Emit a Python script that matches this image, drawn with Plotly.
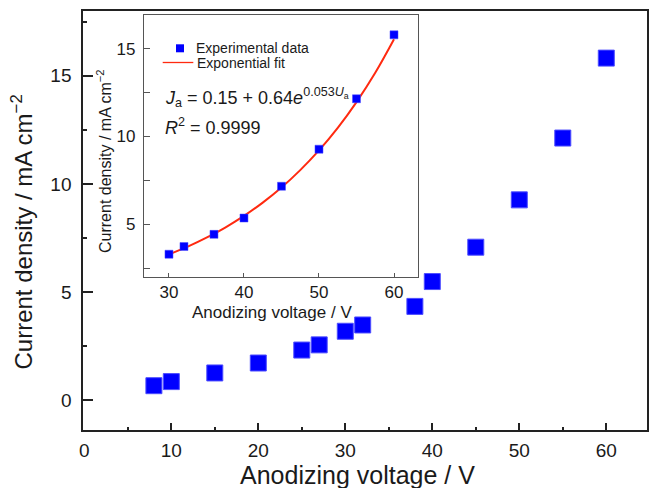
import plotly.graph_objects as go

W, H = 649, 488

# ---- data ----
main_voltage = [8, 10, 15, 20, 25, 27, 30, 32, 38, 40, 45, 50, 55, 60]
main_current = [0.66, 0.85, 1.25, 1.71, 2.31, 2.55, 3.18, 3.47, 4.33, 5.48, 7.07, 9.26, 12.12, 15.82]

inset_voltage = [30, 32, 36, 40, 45, 50, 55, 60]
inset_current = [3.30, 3.74, 4.43, 5.36, 7.17, 9.28, 12.15, 15.79]

fit_voltage = [30, 32.5, 35, 37.5, 40, 42.5, 45, 47.5, 50, 52.5, 55, 57.5, 60]
fit_current = [3.29, 3.73, 4.24, 4.82, 5.48, 6.24, 7.10, 8.09, 9.21, 10.49, 11.96, 13.63, 15.54]

main_xticks = [0, 10, 20, 30, 40, 50, 60]
main_yticks = [0, 5, 10, 15]
inset_xticks = [30, 40, 50, 60]
inset_yticks = [5, 10, 15]
inset_yminor = [2.5, 7.5, 12.5]

FONT = "Arial, Liberation Sans, sans-serif"
TXT = "#1a1a1a"
BLUE = "#0000ff"
RED = "#ff2a10"


def px(x):
    return x / W


def py(y):
    return 1 - y / H


fig = go.Figure()

fig.add_trace(go.Scatter(
    x=main_voltage, y=main_current, mode="markers",
    marker=dict(symbol="square", size=16, color=BLUE, line=dict(width=1, color="#4d4dff")),
    xaxis="x", yaxis="y", showlegend=False))

fig.add_trace(go.Scatter(
    x=fit_voltage, y=fit_current, mode="lines", line=dict(color=RED, width=2, shape="spline"),
    xaxis="x2", yaxis="y2", showlegend=False))

fig.add_trace(go.Scatter(
    x=inset_voltage, y=inset_current, mode="markers",
    marker=dict(symbol="square", size=8, color=BLUE, line=dict(width=0.5, color="#4d4dff")),
    xaxis="x2", yaxis="y2", showlegend=False))

fig.update_layout(
    width=W, height=H,
    margin=dict(l=0, r=0, t=0, b=0, autoexpand=False),
    paper_bgcolor="white", plot_bgcolor="white",
    font=dict(family=FONT, color=TXT),
    xaxis=dict(
        domain=[px(83.3), px(647)], range=[-0.115, 64.68], automargin=False,
        tickvals=main_xticks, ticks="inside", ticklen=7, tickwidth=1.5, tickcolor="#222",
        minor=dict(dtick=5, tick0=0, ticks="inside", ticklen=3, tickwidth=1.5, tickcolor="#222"),
        showline=True, linecolor="#222", linewidth=2, mirror=True,
        showgrid=False, zeroline=False, tickfont=dict(size=19, color=TXT),
        anchor="y", ticklabelstandoff=2),
    yaxis=dict(
        domain=[py(430), py(11)], range=[-1.39, 18.0], automargin=False,
        tickvals=main_yticks, ticks="inside", ticklen=10, tickwidth=1.5, tickcolor="#222",
        minor=dict(dtick=2.5, tick0=0, ticks="inside", ticklen=4, tickwidth=1.5, tickcolor="#222"),
        showline=True, linecolor="#222", linewidth=2, mirror=True,
        showgrid=False, zeroline=False, tickfont=dict(size=19, color=TXT),
        anchor="x", ticklabelstandoff=6),
    xaxis2=dict(
        domain=[px(144), px(417.7)], range=[26.67, 63.16], automargin=False,
        tickvals=inset_xticks, ticks="inside", ticklen=4, tickwidth=1, tickcolor="#555",
        showline=True, linecolor="#555", linewidth=1.3, mirror=True,
        showgrid=False, zeroline=False, tickfont=dict(size=17, color=TXT),
        anchor="y2", ticklabelstandoff=0),
    yaxis2=dict(
        domain=[py(276.7), py(15)], range=[2.02, 16.92], automargin=False,
        tickvals=inset_yticks,
        ticks="inside", ticklen=6, tickwidth=1, tickcolor="#555",
        minor=dict(tickvals=inset_yminor, ticks="inside", ticklen=6, tickwidth=1, tickcolor="#555"),
        showline=True, linecolor="#555", linewidth=1.3, mirror=True,
        showgrid=False, zeroline=False, tickfont=dict(size=17, color=TXT),
        anchor="x2", ticklabelstandoff=4),
    showlegend=False,
)

annotations = [
    dict(text="Anodizing voltage / V", x=px(357.7), y=py(475), xanchor="center", yanchor="middle",
         font=dict(size=25, color=TXT)),
    dict(text="Current density / mA cm<sup>−2</sup>", x=px(22), y=py(232.5), textangle=-90,
         xanchor="center", yanchor="middle", font=dict(size=24, color=TXT)),
    dict(text="Anodizing voltage / V", x=px(271.5), y=py(312.5), xanchor="center", yanchor="middle",
         font=dict(size=17, color=TXT)),
    dict(text="Current density / mA cm<sup>−2</sup>", x=px(104), y=py(162), textangle=-90,
         xanchor="center", yanchor="middle", font=dict(size=16, color=TXT)),
    dict(text="Experimental data", x=px(194), y=py(48.3), xanchor="left", yanchor="middle",
         font=dict(size=14, color=TXT)),
    dict(text="Exponential fit", x=px(195), y=py(63.3), xanchor="left", yanchor="middle",
         font=dict(size=14, color=TXT)),
    dict(text="<i>J</i><sub>a</sub> = 0.15 + 0.64<i>e</i><sup>0.053<i>U</i><sub>a</sub></sup>",
         x=px(163), y=py(98), xanchor="left", yanchor="middle", font=dict(size=18, color=TXT)),
    dict(text="<i>R</i><sup>2</sup> = 0.9999", x=px(163), y=py(127), xanchor="left", yanchor="middle",
         font=dict(size=18, color=TXT)),
]
for a in annotations:
    a.update(xref="paper", yref="paper", showarrow=False)
fig.update_layout(annotations=annotations)

# legend keys
fig.add_shape(type="rect", xref="paper", yref="paper",
              x0=px(176), x1=px(184), y0=py(52.3), y1=py(44.3),
              fillcolor=BLUE, line=dict(width=0))
fig.add_shape(type="line", xref="paper", yref="paper",
              x0=px(162.7), x1=px(193.3), y0=py(62.5), y1=py(62.5),
              line=dict(color=RED, width=1.3))

fig.write_html(
    "out.html",
    config={"displayModeBar": False},
    post_script="document.body.style.margin='0';document.body.style.overflow='hidden';",
)
